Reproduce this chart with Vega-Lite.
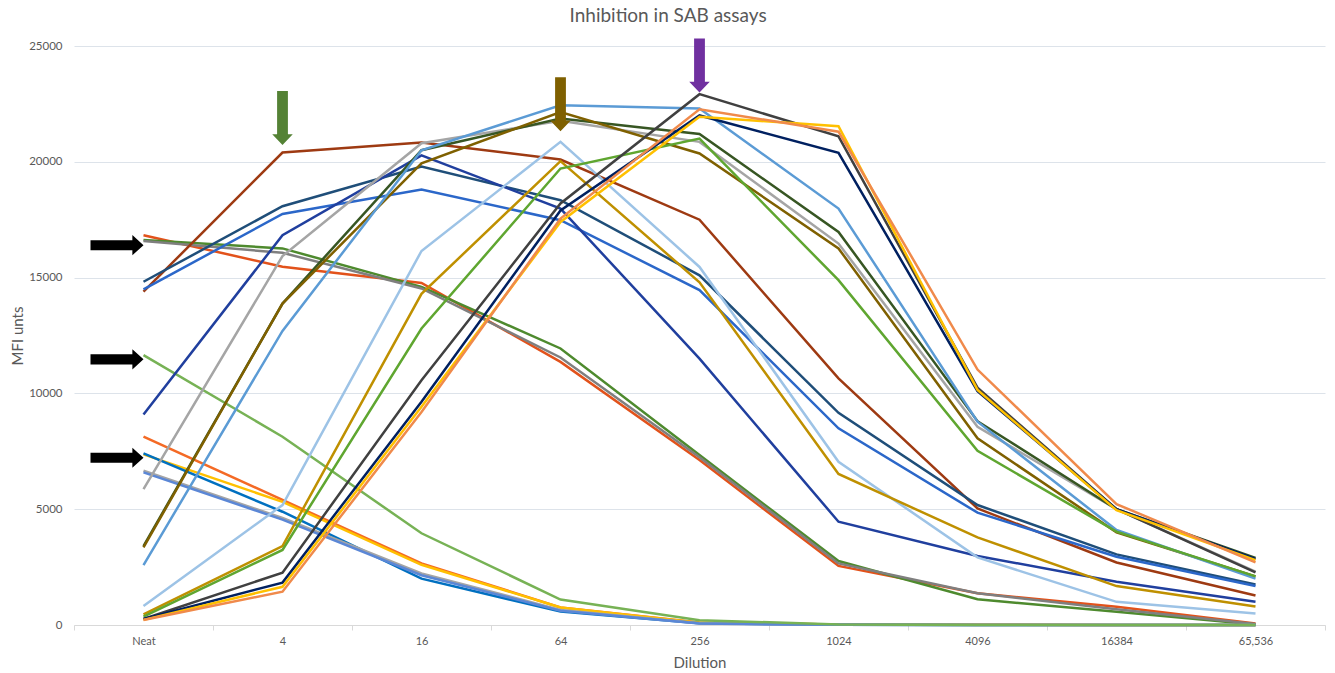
{
  "$schema": "https://vega.github.io/schema/vega-lite/v6.json",
  "width": 1251,
  "height": 579,
  "autosize": {"type": "none"},
  "padding": {"left": 74, "top": 46, "right": 10, "bottom": 48},
  "background": "white",
  "config": {"font": "Lato", "view": {"stroke": null}},
  "title": {
    "text": "Inhibition in SAB assays",
    "fontSize": 19,
    "fontWeight": "normal",
    "color": "#595959",
    "anchor": "middle",
    "frame": "bounds",
    "offset": 13
  },
  "datasets": {
    "mfi": [
      {"s":"s01","d":"Neat","v":16830},{"s":"s01","d":"4","v":15470},{"s":"s01","d":"16","v":14770},{"s":"s01","d":"64","v":11360},{"s":"s01","d":"256","v":7120},{"s":"s01","d":"1024","v":2550},{"s":"s01","d":"4096","v":1370},{"s":"s01","d":"16384","v":790},{"s":"s01","d":"65,536","v":60},
      {"s":"s02","d":"Neat","v":16620},{"s":"s02","d":"4","v":16260},{"s":"s02","d":"16","v":14600},{"s":"s02","d":"64","v":11940},{"s":"s02","d":"256","v":7340},{"s":"s02","d":"1024","v":2760},{"s":"s02","d":"4096","v":1110},{"s":"s02","d":"16384","v":570},{"s":"s02","d":"65,536","v":20},
      {"s":"s03","d":"Neat","v":16580},{"s":"s03","d":"4","v":16070},{"s":"s03","d":"16","v":14530},{"s":"s03","d":"64","v":11550},{"s":"s03","d":"256","v":7240},{"s":"s03","d":"1024","v":2660},{"s":"s03","d":"4096","v":1370},{"s":"s03","d":"16384","v":680},{"s":"s03","d":"65,536","v":40},
      {"s":"s04","d":"Neat","v":8130},{"s":"s04","d":"4","v":5400},{"s":"s04","d":"16","v":2660},{"s":"s04","d":"64","v":760},{"s":"s04","d":"256","v":110},{"s":"s04","d":"1024","v":20},{"s":"s04","d":"4096","v":10},{"s":"s04","d":"16384","v":0},{"s":"s04","d":"65,536","v":0},
      {"s":"s05","d":"Neat","v":7370},{"s":"s05","d":"4","v":5320},{"s":"s05","d":"16","v":2600},{"s":"s05","d":"64","v":760},{"s":"s05","d":"256","v":100},{"s":"s05","d":"1024","v":20},{"s":"s05","d":"4096","v":10},{"s":"s05","d":"16384","v":0},{"s":"s05","d":"65,536","v":0},
      {"s":"s06","d":"Neat","v":7410},{"s":"s06","d":"4","v":4890},{"s":"s06","d":"16","v":2000},{"s":"s06","d":"64","v":580},{"s":"s06","d":"256","v":80},{"s":"s06","d":"1024","v":10},{"s":"s06","d":"4096","v":0},{"s":"s06","d":"16384","v":0},{"s":"s06","d":"65,536","v":0},
      {"s":"s07","d":"Neat","v":6660},{"s":"s07","d":"4","v":4620},{"s":"s07","d":"16","v":2230},{"s":"s07","d":"64","v":650},{"s":"s07","d":"256","v":80},{"s":"s07","d":"1024","v":10},{"s":"s07","d":"4096","v":0},{"s":"s07","d":"16384","v":0},{"s":"s07","d":"65,536","v":0},
      {"s":"s08","d":"Neat","v":6590},{"s":"s08","d":"4","v":4550},{"s":"s08","d":"16","v":2150},{"s":"s08","d":"64","v":620},{"s":"s08","d":"256","v":60},{"s":"s08","d":"1024","v":10},{"s":"s08","d":"4096","v":0},{"s":"s08","d":"16384","v":0},{"s":"s08","d":"65,536","v":0},
      {"s":"s09","d":"Neat","v":11650},{"s":"s09","d":"4","v":8130},{"s":"s09","d":"16","v":3960},{"s":"s09","d":"64","v":1100},{"s":"s09","d":"256","v":210},{"s":"s09","d":"1024","v":20},{"s":"s09","d":"4096","v":0},{"s":"s09","d":"16384","v":0},{"s":"s09","d":"65,536","v":0},
      {"s":"s10","d":"Neat","v":14390},{"s":"s10","d":"4","v":20400},{"s":"s10","d":"16","v":20830},{"s":"s10","d":"64","v":20100},{"s":"s10","d":"256","v":17500},{"s":"s10","d":"1024","v":10650},{"s":"s10","d":"4096","v":5030},{"s":"s10","d":"16384","v":2700},{"s":"s10","d":"65,536","v":1270},
      {"s":"s11","d":"Neat","v":14820},{"s":"s11","d":"4","v":18080},{"s":"s11","d":"16","v":19800},{"s":"s11","d":"64","v":18340},{"s":"s11","d":"256","v":15100},{"s":"s11","d":"1024","v":9160},{"s":"s11","d":"4096","v":5180},{"s":"s11","d":"16384","v":3050},{"s":"s11","d":"65,536","v":1750},
      {"s":"s12","d":"Neat","v":14490},{"s":"s12","d":"4","v":17750},{"s":"s12","d":"16","v":18800},{"s":"s12","d":"64","v":17480},{"s":"s12","d":"256","v":14460},{"s":"s12","d":"1024","v":8490},{"s":"s12","d":"4096","v":4850},{"s":"s12","d":"16384","v":2950},{"s":"s12","d":"65,536","v":1680},
      {"s":"s13","d":"Neat","v":9090},{"s":"s13","d":"4","v":16830},{"s":"s13","d":"16","v":20280},{"s":"s13","d":"64","v":17980},{"s":"s13","d":"256","v":11500},{"s":"s13","d":"1024","v":4460},{"s":"s13","d":"4096","v":2980},{"s":"s13","d":"16384","v":1870},{"s":"s13","d":"65,536","v":1000},
      {"s":"s14","d":"Neat","v":5870},{"s":"s14","d":"4","v":15930},{"s":"s14","d":"16","v":20800},{"s":"s14","d":"64","v":21770},{"s":"s14","d":"256","v":20860},{"s":"s14","d":"1024","v":16470},{"s":"s14","d":"4096","v":8560},{"s":"s14","d":"16384","v":5000},{"s":"s14","d":"65,536","v":2300},
      {"s":"s15","d":"Neat","v":3410},{"s":"s15","d":"4","v":13880},{"s":"s15","d":"16","v":20500},{"s":"s15","d":"64","v":21870},{"s":"s15","d":"256","v":21200},{"s":"s15","d":"1024","v":16970},{"s":"s15","d":"4096","v":8800},{"s":"s15","d":"16384","v":5000},{"s":"s15","d":"65,536","v":2900},
      {"s":"s16","d":"Neat","v":3350},{"s":"s16","d":"4","v":13880},{"s":"s16","d":"16","v":19930},{"s":"s16","d":"64","v":22150},{"s":"s16","d":"256","v":20360},{"s":"s16","d":"1024","v":16260},{"s":"s16","d":"4096","v":8060},{"s":"s16","d":"16384","v":4000},{"s":"s16","d":"65,536","v":2100},
      {"s":"s17","d":"Neat","v":2590},{"s":"s17","d":"4","v":12700},{"s":"s17","d":"16","v":20500},{"s":"s17","d":"64","v":22440},{"s":"s17","d":"256","v":22300},{"s":"s17","d":"1024","v":17980},{"s":"s17","d":"4096","v":8780},{"s":"s17","d":"16384","v":4100},{"s":"s17","d":"65,536","v":2000},
      {"s":"s18","d":"Neat","v":820},{"s":"s18","d":"4","v":5180},{"s":"s18","d":"16","v":16150},{"s":"s18","d":"64","v":20860},{"s":"s18","d":"256","v":15460},{"s":"s18","d":"1024","v":7050},{"s":"s18","d":"4096","v":2920},{"s":"s18","d":"16384","v":1000},{"s":"s18","d":"65,536","v":500},
      {"s":"s19","d":"Neat","v":460},{"s":"s19","d":"4","v":3410},{"s":"s19","d":"16","v":14300},{"s":"s19","d":"64","v":20030},{"s":"s19","d":"256","v":14800},{"s":"s19","d":"1024","v":6520},{"s":"s19","d":"4096","v":3780},{"s":"s19","d":"16384","v":1680},{"s":"s19","d":"65,536","v":800},
      {"s":"s20","d":"Neat","v":360},{"s":"s20","d":"4","v":3240},{"s":"s20","d":"16","v":12800},{"s":"s20","d":"64","v":19710},{"s":"s20","d":"256","v":21000},{"s":"s20","d":"1024","v":14890},{"s":"s20","d":"4096","v":7520},{"s":"s20","d":"16384","v":4030},{"s":"s20","d":"65,536","v":2100},
      {"s":"s21","d":"Neat","v":260},{"s":"s21","d":"4","v":2260},{"s":"s21","d":"16","v":10570},{"s":"s21","d":"64","v":18200},{"s":"s21","d":"256","v":22920},{"s":"s21","d":"1024","v":21100},{"s":"s21","d":"4096","v":10250},{"s":"s21","d":"16384","v":5000},{"s":"s21","d":"65,536","v":2270},
      {"s":"s22","d":"Neat","v":260},{"s":"s22","d":"4","v":1830},{"s":"s22","d":"16","v":9640},{"s":"s22","d":"64","v":17900},{"s":"s22","d":"256","v":22000},{"s":"s22","d":"1024","v":20390},{"s":"s22","d":"4096","v":10100},{"s":"s22","d":"16384","v":5000},{"s":"s22","d":"65,536","v":2850},
      {"s":"s23","d":"Neat","v":220},{"s":"s23","d":"4","v":1650},{"s":"s23","d":"16","v":9420},{"s":"s23","d":"64","v":17400},{"s":"s23","d":"256","v":21940},{"s":"s23","d":"1024","v":21540},{"s":"s23","d":"4096","v":10150},{"s":"s23","d":"16384","v":4960},{"s":"s23","d":"65,536","v":2800},
      {"s":"s24","d":"Neat","v":220},{"s":"s24","d":"4","v":1440},{"s":"s24","d":"16","v":9200},{"s":"s24","d":"64","v":17550},{"s":"s24","d":"256","v":22270},{"s":"s24","d":"1024","v":21300},{"s":"s24","d":"4096","v":11030},{"s":"s24","d":"16384","v":5220},{"s":"s24","d":"65,536","v":2700}
    ],
    "peaks": [
      {"arrow": "peak at 4", "d": "4", "v": 20720},
      {"arrow": "peak at 64", "d": "64", "v": 21320},
      {"arrow": "peak at 256", "d": "256", "v": 22990}
    ],
    "neat": [
      {"arrow": "neat high", "d": "Neat", "v": 16400},
      {"arrow": "neat mid", "d": "Neat", "v": 11470},
      {"arrow": "neat low", "d": "Neat", "v": 7220}
    ]
  },
  "encoding": {
    "x": {
      "field": "d",
      "type": "nominal",
      "sort": null,
      "scale": {
        "type": "band",
        "domain": ["Neat", "4", "16", "64", "256", "1024", "4096", "16384", "65,536"],
        "paddingInner": 0,
        "paddingOuter": 0
      },
      "axis": {
        "title": "Dilution",
        "tickBand": "extent",
        "grid": false,
        "labelAngle": 0,
        "domainColor": "#D9D9D9",
        "tickColor": "#D9D9D9",
        "tickSize": 5,
        "labelFontSize": 11,
        "labelColor": "#595959",
        "labelPadding": 5,
        "titleFontSize": 15,
        "titleFontWeight": "normal",
        "titleColor": "#595959",
        "titlePadding": 9
      }
    },
    "y": {
      "field": "v",
      "type": "quantitative",
      "scale": {"domain": [0, 25000], "nice": false},
      "axis": {
        "title": "MFI unts",
        "values": [0, 5000, 10000, 15000, 20000, 25000],
        "format": "d",
        "domain": false,
        "ticks": false,
        "gridColor": "#DDE3EA",
        "labelFontSize": 11.5,
        "labelColor": "#595959",
        "labelPadding": 12,
        "titleFontSize": 15,
        "titleFontWeight": "normal",
        "titleColor": "#595959",
        "titlePadding": 3
      }
    }
  },
  "layer": [
    {
      "data": {"name": "mfi"},
      "mark": {"type": "line", "strokeWidth": 2.5},
      "encoding": {
        "color": {
          "field": "s",
          "type": "nominal",
          "legend": null,
          "scale": {
            "domain": ["s01","s02","s03","s04","s05","s06","s07","s08","s09","s10","s11","s12","s13","s14","s15","s16","s17","s18","s19","s20","s21","s22","s23","s24"],
            "range": ["#E2521B","#4E8A2E","#7F7F7F","#F46A25","#FFC000","#0070C0","#A5A5A5","#5B87D6","#77B255","#9E3A12","#1F4E79","#2B67C9","#203F9E","#A5A5A5","#375623","#7F6000","#5B9BD5","#9DC3E6","#BF9000","#5FA630","#404040","#002060","#FFC000","#F08A4B"]
          }
        }
      }
    },
    {
      "data": {"name": "peaks"},
      "mark": {
        "type": "point",
        "shape": "M-0.2,-2 L0.2,-2 L0.2,-0.4 L0.38,-0.4 L0,0 L-0.38,-0.4 L-0.2,-0.4 Z",
        "size": 2916,
        "filled": true,
        "opacity": 1,
        "strokeWidth": 0
      },
      "encoding": {
        "color": {
          "field": "arrow",
          "type": "nominal",
          "legend": null,
          "scale": {
            "domain": ["peak at 4", "peak at 64", "peak at 256"],
            "range": ["#548235", "#7F6000", "#7030A0"]
          }
        }
      }
    },
    {
      "data": {"name": "neat"},
      "mark": {
        "type": "point",
        "shape": "M-2,-0.19 L-0.42,-0.19 L-0.42,-0.38 L0,0 L-0.42,0.38 L-0.42,0.19 L-2,0.19 Z",
        "size": 2809,
        "filled": true,
        "opacity": 1,
        "strokeWidth": 0,
        "color": "#000000"
      }
    }
  ],
  "resolve": {"scale": {"color": "independent"}}
}
